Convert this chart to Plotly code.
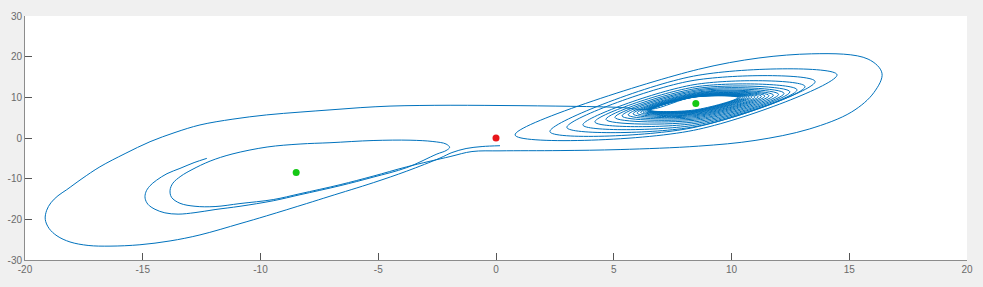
import plotly.graph_objects as go

# ---- trajectory pieces (data units) ----
# start near the origin, lowest band line, outer left loop, top line into right lobe
seg_start_x = [0.17, -0.59, -1.27, -1.87, -2.38, -3.79, -5.21, -7.05, -8.04, -9.74, -10.87, -12.57,
               -13.84, -15.12, -16.39, -17.32, -18.09, -18.64, -18.98, -19.14, -19.08, -18.90, -18.60,
               -18.23, -17.58, -16.82, -15.75, -14.69, -13.63, -12.57, -11.17, -9.74, -8.32, -7.05,
               -5.77, -4.50, -3.23, -1.95, -0.47, 1.02, 2.51, 3.85, 5.27]
seg_start_y = [-1.90, -2.10, -2.59, -3.58, -4.94, -8.15, -10.99, -14.32, -16.12, -19.14, -21.06, -23.83,
               -25.31, -26.25, -26.59, -26.42, -25.56, -24.07, -22.22, -20.00, -17.78, -15.93, -14.20,
               -12.72, -10.00, -7.09, -3.83, -0.91, 1.36, 3.21, 4.64, 5.68, 6.37, 6.91,
               7.46, 7.85, 8.00, 8.05, 8.02, 7.95, 7.85, 7.73, 7.53]

# right-lobe spiral: per loop its left tip, top, right tip and bottom (inner -> outer)
loop_left_x = [6.56, 6.54, 6.54, 6.52, 6.50, 6.47, 6.43, 6.39, 6.33, 6.24, 6.14, 5.99, 5.82, 5.61,
               5.35, 5.05, 4.67, 4.20, 3.69, 3.01, 2.29, 0.81]
loop_left_y = [7.04, 6.84, 6.81, 6.79, 6.77, 6.72, 6.67, 6.59, 6.52, 6.42, 6.30, 6.12, 5.93, 5.68,
               5.43, 5.06, 4.57, 3.95, 3.21, 2.59, 1.56, 0.74]
loop_top_x = [8.42, 8.44, 8.47, 8.50, 8.54, 8.56, 8.60, 8.63, 8.66, 8.68, 8.70, 8.70, 8.70, 8.69,
              8.67, 8.64, 8.58, 8.49, 8.41, 8.28, 8.39, 8.60]
loop_top_y = [10.10, 10.06, 10.11, 10.17, 10.25, 10.33, 10.42, 10.53, 10.62, 10.74, 10.89, 11.04,
              11.21, 11.40, 11.67, 11.93, 12.23, 12.59, 13.12, 14.05, 15.22, 16.90]
loop_right_x = [10.28, 10.34, 10.40, 10.49, 10.57, 10.66, 10.76, 10.87, 11.00, 11.13, 11.27, 11.42,
                11.59, 11.78, 12.00, 12.23, 12.48, 12.78, 13.12, 13.55, 14.48, 16.39]
loop_right_y = [9.95, 9.98, 10.00, 10.00, 10.02, 10.05, 10.07, 10.12, 10.12, 10.17, 10.25, 10.32,
                10.42, 10.54, 10.74, 10.99, 11.36, 11.85, 12.67, 13.90, 15.56, 15.93]
loop_bottom_x = [8.42, 8.44, 8.47, 8.50, 8.54, 8.56, 8.60, 8.63, 8.66, 8.68, 8.70, 8.70, 8.70, 8.69,
                 8.67, 8.64, 8.58, 8.49, 8.41, 8.28, 8.39]
loop_bottom_y = [6.89, 6.75, 6.70, 6.62, 6.54, 6.43, 6.32, 6.19, 6.02, 5.85, 5.65, 5.41, 5.14, 4.83,
                 4.51, 4.12, 3.69, 3.21, 2.75, 2.44, 1.89]

# outermost right loop: its flat top before the right tip
outer_top_x = [13.40, 15.80]
outer_top_y = [20.70, 19.40]

# ejection: bottom of the outer right loop, bottom line, band, left lobe
eject_x = [16.05, 15.10, 13.30, 11.00, 8.60, 5.27, 2.72, 0.17, -1.02]
eject_y = [11.20, 6.40, 2.20, -0.60, -2.00, -2.84, -3.09, -3.16, -3.33]
band_b_x = [-1.95, -3.79, -5.22, -6.62, -8.32, -9.46, -10.87, -11.93]
band_b_y = [-4.57, -7.09, -9.38, -11.48, -13.70, -15.14, -16.12, -16.86]
middle_x = [-12.78, -13.42, -13.78, -13.84, -13.72, -13.38, -12.91, -12.14, -11.21, -9.72, -8.32,
            -7.05, -5.22, -3.65, -2.68, -2.12, -1.97, -2.12, -2.51]
middle_y = [-16.79, -16.05, -14.57, -12.84, -11.11, -9.38, -7.78, -5.68, -3.95, -2.22, -1.48,
            -1.16, -0.62, -0.54, -0.86, -1.48, -2.30, -3.09, -3.95]
band_c_x = [-3.79, -5.22, -6.62, -8.32, -9.46, -10.87, -11.93]
band_c_y = [-7.28, -9.63, -11.73, -13.95, -15.43, -16.79, -17.60]
hook_x = [-12.78, -13.50, -14.06, -14.48, -14.78, -14.90, -14.87, -14.71, -14.41, -13.97, -13.42,
          -12.82, -12.28]
hook_y = [-18.35, -18.72, -18.40, -17.53, -16.30, -14.81, -13.33, -11.85, -10.37, -8.77, -7.48,
          -6.05, -5.01]

# equilibrium points
stable_x = [-8.485, 8.485]
stable_y = [-8.485, 8.485]
origin_x = [0.0]
origin_y = [0.0]

x_ticks = [-20, -15, -10, -5, 0, 5, 10, 15, 20]
x_tick_text = ["-20", "-15", "-10", "-5", "0", "5", "10", "15", "20"]
y_ticks = [-30, -20, -10, 0, 10, 20, 30]
y_tick_text = ["-30", "-20", "-10", "0", "10", "20", "30"]

# ---- assemble the path in order ----
n_loops = len(loop_left_x)
spiral_x, spiral_y = [], []
for k in range(n_loops):
    spiral_x += [loop_left_x[k], loop_top_x[k]]
    spiral_y += [loop_left_y[k], loop_top_y[k]]
    if k == n_loops - 1:
        spiral_x += outer_top_x
        spiral_y += outer_top_y
    spiral_x.append(loop_right_x[k])
    spiral_y.append(loop_right_y[k])
    if k < len(loop_bottom_x):
        spiral_x.append(loop_bottom_x[k])
        spiral_y.append(loop_bottom_y[k])

path_x = seg_start_x + spiral_x + eject_x + band_b_x + middle_x + band_c_x + hook_x
path_y = seg_start_y + spiral_y + eject_y + band_b_y + middle_y + band_c_y + hook_y

fig = go.Figure()
fig.add_trace(go.Scatter(x=path_x, y=path_y, mode="lines",
                         line=dict(color="#0072BD", width=1, shape="spline", smoothing=1.0,
                                   simplify=False),
                         hoverinfo="skip"))
fig.add_trace(go.Scatter(x=stable_x, y=stable_y, mode="markers",
                         marker=dict(color="#14c814", size=7), hoverinfo="skip"))
fig.add_trace(go.Scatter(x=origin_x, y=origin_y, mode="markers",
                         marker=dict(color="#e8161b", size=7), hoverinfo="skip"))

axis_common = dict(showgrid=False, zeroline=False, showline=True, linecolor="#8c8c8c", linewidth=1,
                   ticks="inside", ticklen=7, tickcolor="#555555", tickwidth=1, mirror=False,
                   automargin=False,
                   tickfont=dict(family="Liberation Sans, Arial, sans-serif", size=10, color="#6a6a6a"))
fig.update_xaxes(range=[-20, 20], tickvals=x_ticks, ticktext=x_tick_text, **axis_common)
fig.update_yaxes(range=[-30, 30], tickvals=y_ticks, ticktext=y_tick_text, **axis_common)

fig.update_layout(width=983, height=287, margin=dict(l=25, r=16, t=16, b=27, autoexpand=False),
                  paper_bgcolor="#f0f0f0", plot_bgcolor="#ffffff", showlegend=False)

fig.write_html("out.html", config={"displayModeBar": False})
